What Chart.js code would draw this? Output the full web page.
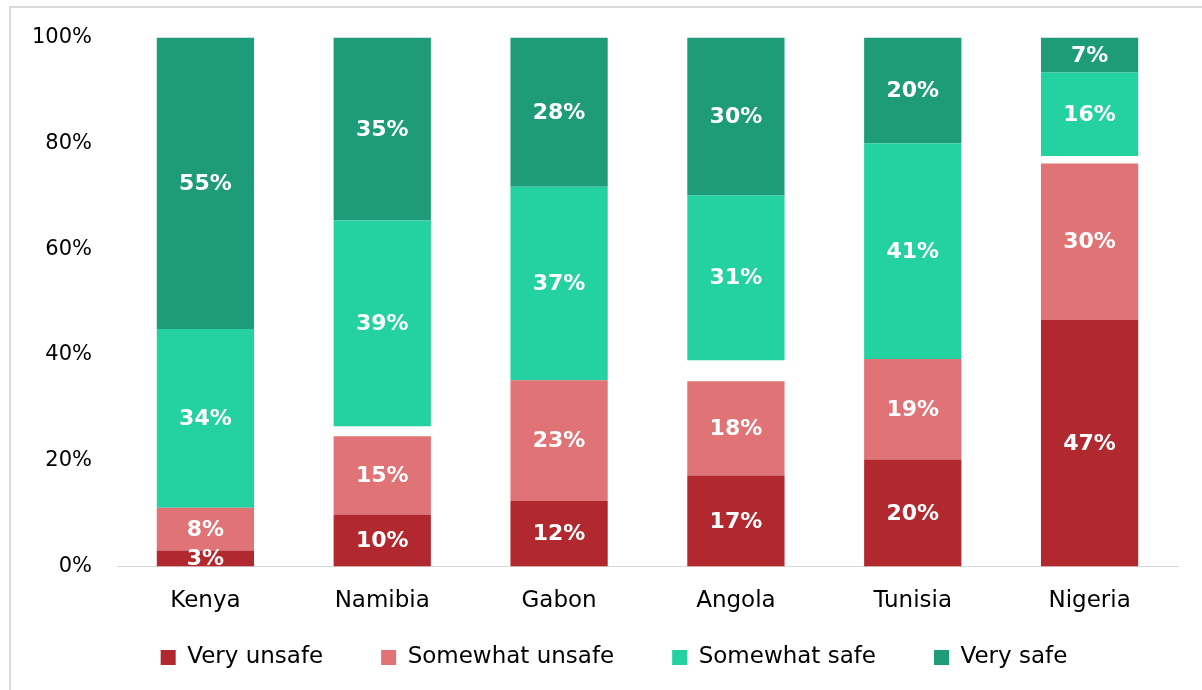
<!DOCTYPE html>
<html>
<head>
<meta charset="utf-8">
<script src="https://cdn.jsdelivr.net/npm/chart.js@4.4.0/dist/chart.umd.min.js"></script>
<style>
  html, body { margin: 0; padding: 0; background: #fff; }
  #wrap { position: relative; width: 1202px; height: 690px; }
  #frame { position: absolute; left: 9px; top: 6px; width: 1200px; height: 700px;
           border-left: 2px solid #d9d9d9; border-top: 2px solid #d9d9d9; }
  canvas { position: absolute; left: 0; top: 0; }
</style>
</head>
<body>
<div id="wrap">
  <div id="frame"></div>
  <canvas id="myChart" width="1202" height="690"></canvas>
</div>
<script>
const countries = ['Kenya', 'Namibia', 'Gabon', 'Angola', 'Tunisia', 'Nigeria'];
const veryUnsafe     = [3.0, 9.8, 12.4, 17.2, 20.2, 46.6];
const somewhatUnsafe = [8.1, 14.8, 22.8, 17.8, 19.0, 29.6];
const noAnswer       = [0, 1.9, 0, 4.0, 0, 1.4];
const somewhatSafe   = [33.8, 38.9, 36.6, 31.2, 40.8, 15.8];
const verySafe       = [55.1, 34.6, 28.2, 29.8, 20.0, 6.6];
const yTicks = [0, 20, 40, 60, 80, 100];

const FONT = "'DejaVu Sans', sans-serif";
const LEGEND_SHIFT = 40;

// draws the white percentage labels inside each segment
const segmentLabels = {
    id: 'segmentLabels',
    afterDatasetsDraw(chart) {
        const c = chart.ctx;
        const area = chart.chartArea;
        c.save();
        c.beginPath();
        c.rect(area.left, area.top, area.right - area.left, area.bottom - area.top);
        c.clip();
        c.fillStyle = '#fff';
        c.font = 'bold 22px ' + FONT;
        c.textAlign = 'center';
        c.textBaseline = 'middle';
        chart.data.datasets.forEach((ds, i) => {
            if (ds.label === 'No answer') return;
            chart.getDatasetMeta(i).data.forEach((bar, j) => {
                const v = ds.data[j];
                if (!v) return;
                c.fillText(Math.round(v) + '%', bar.x, (bar.y + bar.base) / 2 + 1);
            });
        });
        c.restore();
    }
};

// legend padding is wide for horizontal spacing, pull it back up
const legendUp = {
    id: 'legendUp',
    afterLayout(chart) {
        chart.legend.top -= LEGEND_SHIFT;
        chart.legend.bottom -= LEGEND_SHIFT;
        chart.legend.left += 25;
        chart.legend.right += 25;
    }
};

const ctx = document.getElementById('myChart');
const myChart = new Chart(ctx, {
    type: 'bar',
    data: {
        labels: countries,
        datasets: [
            { label: 'Very unsafe', data: veryUnsafe, backgroundColor: '#B1282E' },
            { label: 'Somewhat unsafe', data: somewhatUnsafe, backgroundColor: '#E07375' },
            { label: 'No answer', data: noAnswer, backgroundColor: 'rgba(0,0,0,0)' },
            { label: 'Somewhat safe', data: somewhatSafe, backgroundColor: '#24D1A0' },
            { label: 'Very safe', data: verySafe, backgroundColor: '#1E9C7A' }
        ]
    },
    options: {
        responsive: false,
        animation: false,
        layout: { padding: { top: 25, right: 24, left: 0, bottom: -29 } },
        datasets: { bar: { categoryPercentage: 0.55, barPercentage: 1 } },
        scales: {
            x: {
                stacked: true,
                grid: { display: false },
                border: { display: true, color: '#d9d9d9', width: 1 },
                ticks: { color: '#000', font: { family: FONT, size: 23 }, padding: 13 }
            },
            y: {
                stacked: true,
                min: 0,
                max: 100,
                afterFit(scale) { scale.width = 117; },
                afterBuildTicks(scale) { scale.ticks = yTicks.map(v => ({ value: v })); },
                grid: { display: false, drawTicks: false },
                border: { display: false },
                ticks: {
                    color: '#000',
                    padding: 25,
                    font: { family: FONT, size: 21 },
                    callback: v => v + '%'
                }
            }
        },
        plugins: {
            legend: {
                position: 'bottom',
                labels: {
                    color: '#000',
                    boxWidth: 15,
                    boxHeight: 15,
                    padding: 58,
                    font: { family: FONT, size: 23 },
                    filter: item => item.text !== 'No answer'
                }
            },
            tooltip: { enabled: false }
        }
    },
    plugins: [segmentLabels, legendUp]
});
</script>
</body>
</html>
